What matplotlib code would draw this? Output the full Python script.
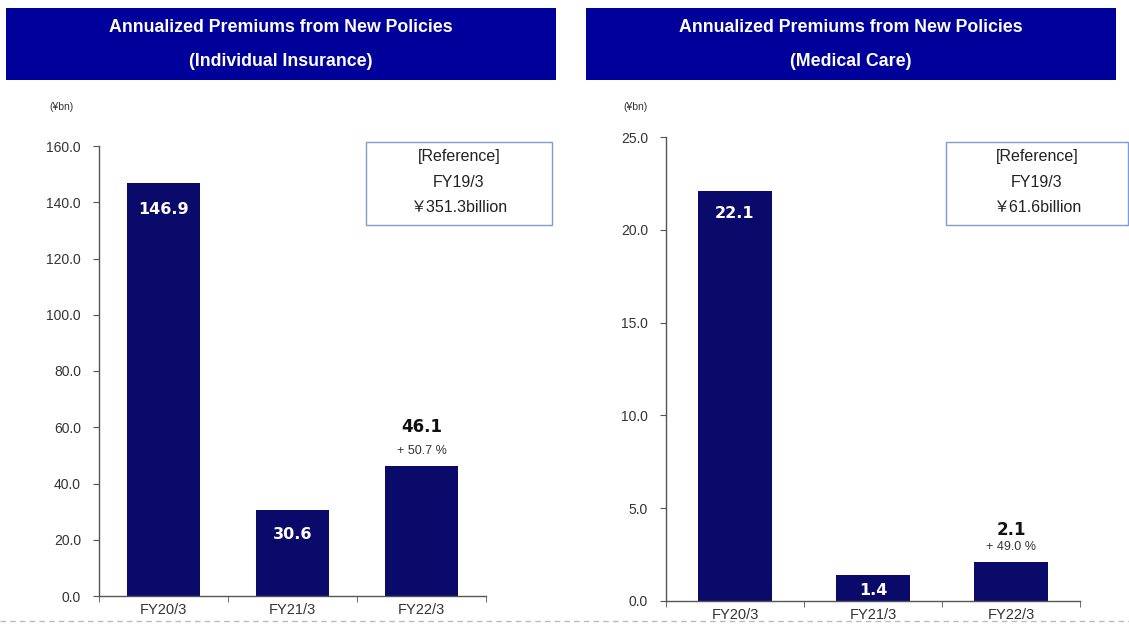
import matplotlib.pyplot as plt
from matplotlib.patches import Rectangle

plt.rcParams["font.family"] = ["Liberation Sans", "Noto Sans CJK JP", "DejaVu Sans"]

categories = ["FY20/3", "FY21/3", "FY22/3"]
individual_values = [146.9, 30.6, 46.1]
medical_values = [22.1, 1.4, 2.1]
individual_growth = "+ 50.7 %"
medical_growth = "+ 49.0 %"
individual_ref = "￥351.3billion"
medical_ref = "￥61.6billion"
panel_titles = [
    "Annualized Premiums from New Policies\n(Individual Insurance)",
    "Annualized Premiums from New Policies\n(Medical Care)",
]

W, H = 1129, 624
HEADER_BLUE = "#00009A"
BAR_NAVY = "#0A0A6A"
AXIS_GREY = "#555555"
TEXT_GREY = "#333333"

fig = plt.figure(figsize=(W / 100, H / 100), dpi=100)
fig.patch.set_facecolor("white")


def fx(px):
    return px / W


def fy(py):
    return 1 - py / H


def header(x0, x1, title):
    fig.patches.append(
        Rectangle((fx(x0), fy(80)), fx(x1 - x0), (80 - 8) / H,
                  transform=fig.transFigure, facecolor=HEADER_BLUE,
                  edgecolor="none", zorder=0)
    )
    line1, line2 = title.split("\n")
    cx = fx((x0 + x1) / 2)
    fig.text(cx, fy(27), line1, color="white", fontsize=12.8,
             fontweight="bold", ha="center", va="center")
    fig.text(cx, fy(61), line2, color="white", fontsize=12.8,
             fontweight="bold", ha="center", va="center")


def ref_box(x0, x1, value):
    fig.patches.append(
        Rectangle((fx(x0), fy(225)), fx(x1 - x0), (225 - 142) / H,
                  transform=fig.transFigure, facecolor="white",
                  edgecolor="#7F9BD0", linewidth=1.0, zorder=1)
    )
    cx = fx((x0 + x1) / 2)
    for y, s in zip([157, 182, 208], ["[Reference]", "FY19/3", value]):
        fig.text(cx, fy(y), s, color="#222222", fontsize=11.5,
                 ha="center", va="center", zorder=2)


def panel(rect, values, ymax, ystep, growth, bar_width, inner_offsets):
    left, top, right, bottom = rect
    ax = fig.add_axes([fx(left), fy(bottom), fx(right - left), (bottom - top) / H])
    x = list(range(len(categories)))
    bars = ax.bar(x, values, width=bar_width, color=BAR_NAVY, zorder=2)
    ax.set_xlim(-0.5, len(categories) - 0.5)
    ax.set_ylim(0, ymax)
    ax.set_yticks([i * ystep for i in range(int(round(ymax / ystep)) + 1)])
    ax.yaxis.set_major_formatter(plt.FuncFormatter(lambda v, p: f"{v:.1f}"))
    ax.set_xticks(x)
    ax.set_xticklabels(categories)
    ax.set_xticks([i - 0.5 for i in range(len(categories) + 1)], minor=True)
    ax.tick_params(axis="x", which="major", length=0, pad=5,
                   labelsize=10.5, labelcolor=TEXT_GREY)
    ax.tick_params(axis="x", which="minor", length=4, direction="out",
                   color=AXIS_GREY)
    ax.tick_params(axis="y", length=4, direction="out", color=AXIS_GREY,
                   labelsize=10, labelcolor=TEXT_GREY, pad=9)
    for s in ["top", "right"]:
        ax.spines[s].set_visible(False)
    for s in ["left", "bottom"]:
        ax.spines[s].set_color(AXIS_GREY)
        ax.spines[s].set_linewidth(1.0)

    for i, (b, v) in enumerate(zip(bars, values)):
        cx = b.get_x() + b.get_width() / 2
        if i < len(values) - 1:
            ax.annotate(f"{v:.1f}", xy=(cx, v), xytext=(0, -inner_offsets[i]),
                        textcoords="offset pixels", ha="center", va="center",
                        color="white", fontsize=11.5, fontweight="bold",
                        family="DejaVu Sans", zorder=3)
        else:
            ax.annotate(f"{v:.1f}", xy=(cx, v), xytext=(0, inner_offsets[i]),
                        textcoords="offset pixels", ha="center", va="center",
                        color="#111111", fontsize=12, fontweight="bold",
                        family="DejaVu Sans", zorder=3)
            ax.annotate(growth, xy=(cx, v), xytext=(0, 15),
                        textcoords="offset pixels", ha="center", va="center",
                        color=TEXT_GREY, fontsize=9, zorder=3)
    return ax


header(6, 556, panel_titles[0])
header(586, 1116, panel_titles[1])

fig.text(fx(61), fy(107), "(¥bn)", fontsize=7.5, color=TEXT_GREY,
         ha="center", va="center")
fig.text(fx(636), fy(107), "(¥bn)", fontsize=7.5, color=TEXT_GREY,
         ha="center", va="center")

panel((99, 146, 486, 596), individual_values, 160, 20, individual_growth,
      0.57, [27, 25, 39])
panel((666, 137, 1080, 601), medical_values, 25, 5, medical_growth,
      0.54, [23, 15, 32])

ref_box(366, 552, individual_ref)
ref_box(946, 1128, medical_ref)

fig.add_artist(plt.Line2D([0, 1], [fy(621), fy(621)], transform=fig.transFigure,
                          color="#BBBBBB", linewidth=1.0, linestyle=(0, (4, 3))))

fig.savefig("out.png", dpi=100, facecolor="white")
